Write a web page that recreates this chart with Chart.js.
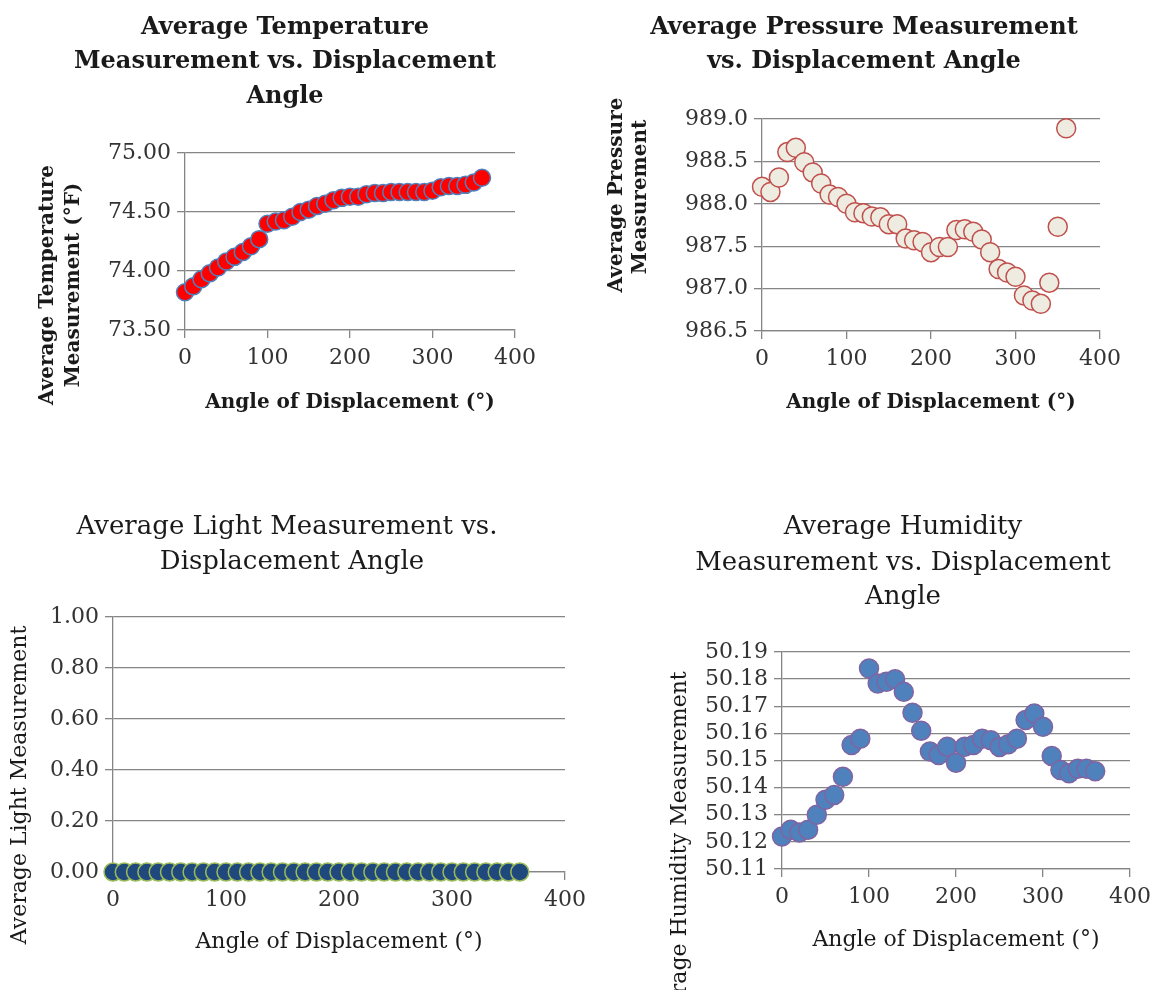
<!DOCTYPE html>
<html>
<head>
<meta charset="utf-8">
<script src="https://cdn.jsdelivr.net/npm/chart.js@4.4.1/dist/chart.umd.min.js"></script>
<style>
  html, body { margin: 0; padding: 0; background: #fff; }
  body { width: 1153px; height: 990px; position: relative; overflow: hidden; }
  .box { position: absolute; }
</style>
</head>
<body>
<div class="box" style="left:0;top:0;width:576px;height:495px"><canvas id="tempChart"></canvas></div>
<div class="box" style="left:576px;top:0;width:577px;height:495px"><canvas id="pressChart"></canvas></div>
<div class="box" style="left:0;top:495px;width:610px;height:495px"><canvas id="lightChart"></canvas></div>
<div class="box" style="left:576px;top:495px;width:610px;height:495px"><canvas id="humChart"></canvas></div>
<script>
// angle of displacement (deg)
const angles = [0, 10, 20, 30, 40, 50, 60, 70, 80, 90, 100, 110, 120, 130, 140, 150, 160, 170, 180,
                190, 200, 210, 220, 230, 240, 250, 260, 270, 280, 290, 300, 310, 320, 330, 340, 350, 360];

const temperature = [73.82, 73.87, 73.93, 73.98, 74.03, 74.08, 74.12, 74.16, 74.21, 74.27,
                     74.40, 74.42, 74.43, 74.46, 74.50, 74.52, 74.55, 74.57, 74.60, 74.62,
                     74.63, 74.63, 74.65, 74.66, 74.66, 74.67, 74.67, 74.67, 74.67, 74.67,
                     74.68, 74.71, 74.72, 74.72, 74.73, 74.75, 74.79];

const pressure = [988.20, 988.14, 988.31, 988.61, 988.66, 988.49, 988.37, 988.24, 988.11, 988.08,
                  988.00, 987.90, 987.89, 987.85, 987.84, 987.76, 987.76, 987.59, 987.57, 987.55,
                  987.43, 987.49, 987.49, 987.69, 987.70, 987.67, 987.58, 987.43, 987.23, 987.19,
                  987.14, 986.92, 986.86, 986.82, 987.07, 987.73, 988.89];

const light = [0, 0, 0, 0, 0, 0, 0, 0, 0, 0, 0, 0, 0, 0, 0, 0, 0, 0, 0,
               0, 0, 0, 0, 0, 0, 0, 0, 0, 0, 0, 0, 0, 0, 0, 0, 0, 0];

const humidity = [50.122, 50.1245, 50.1235, 50.1245, 50.130, 50.1355, 50.1373, 50.144, 50.1557, 50.158,
                  50.1839, 50.1784, 50.179, 50.180, 50.1753, 50.1676, 50.161, 50.1533, 50.152, 50.1551,
                  50.1492, 50.1551, 50.1557, 50.158, 50.1575, 50.155, 50.156, 50.158, 50.1649, 50.1673,
                  50.1624, 50.1517, 50.1465, 50.1453, 50.147, 50.147, 50.146];

const xTicks = [0, 100, 200, 300, 400];
const tempTicks = [73.5, 74.0, 74.5, 75.0];
const pressTicks = [986.5, 987.0, 987.5, 988.0, 988.5, 989.0];
const lightTicks = [0, 0.2, 0.4, 0.6, 0.8, 1.0];
const humTicks = [50.11, 50.12, 50.13, 50.14, 50.15, 50.16, 50.17, 50.18, 50.19];

const SERIF = '"DejaVu Serif", serif';
const GRID = '#858585';

// draws chart titles and the rotated y-axis titles at fixed spots
const textPlugin = {
    id: 'texts',
    afterDraw(chart, args, opts) {
        const ctx = chart.ctx;
        (opts.items || []).forEach(it => {
            ctx.save();
            ctx.font = it.font;
            ctx.fillStyle = '#1a1a1a';
            ctx.textAlign = 'center';
            ctx.textBaseline = 'middle';
            ctx.translate(it.x, it.y);
            if (it.rotate) ctx.rotate(-Math.PI / 2);
            ctx.fillText(it.text, 0, 0);
            ctx.restore();
        });
    }
};

function makeChart(id, cfg) {
    const W = cfg.w, H = 495;
    const xSize = cfg.bold ? 20 : 22;
    const pts = angles.map((a, i) => ({ x: a, y: cfg.values[i] }));
    new Chart(document.getElementById(id).getContext('2d'), {
        type: 'scatter',
        data: {
            datasets: [{
                data: pts,
                backgroundColor: cfg.fill,
                borderColor: cfg.stroke,
                borderWidth: 1.5,
                pointRadius: cfg.radius,
                pointHoverRadius: cfg.radius,
                clip: false
            }]
        },
        options: {
            responsive: true,
            maintainAspectRatio: false,
            animation: false,
            layout: {
                padding: { left: 0, top: cfg.area.t, right: W - cfg.area.r, bottom: 0 }
            },
            plugins: {
                legend: { display: false },
                tooltip: { enabled: false },
                texts: { items: cfg.texts }
            },
            scales: {
                x: {
                    type: 'linear',
                    min: 0,
                    max: 400,
                    afterFit: s => { s.height = H - cfg.area.b; },
                    afterBuildTicks: s => { s.ticks = xTicks.map(v => ({ value: v })); },
                    grid: { drawOnChartArea: false, drawTicks: true, tickLength: 8, color: GRID, lineWidth: 1.3 },
                    border: { display: true, color: GRID, width: 1.3 },
                    ticks: { color: '#333', font: { family: SERIF, size: 22 }, padding: 7, maxRotation: 0, autoSkip: false },
                    title: {
                        display: true,
                        text: 'Angle of Displacement (°)',
                        color: '#1a1a1a',
                        font: { family: SERIF, size: xSize, weight: cfg.bold ? 'bold' : 'normal' },
                        padding: { top: 0, bottom: H - xSize * 0.6 - cfg.xTitleY }
                    }
                },
                y: {
                    type: 'linear',
                    min: cfg.ticks[0],
                    max: cfg.ticks[cfg.ticks.length - 1],
                    afterFit: s => { s.width = cfg.area.l; },
                    afterBuildTicks: s => { s.ticks = cfg.ticks.map(v => ({ value: v })); },
                    grid: { drawOnChartArea: true, drawTicks: true, tickLength: 8, color: GRID, lineWidth: 1.3 },
                    border: { display: true, color: GRID, width: 1.3 },
                    ticks: {
                        color: '#333',
                        font: { family: SERIF, size: 22 },
                        padding: 6,
                        autoSkip: false,
                        callback: v => v.toFixed(cfg.digits)
                    }
                }
            }
        },
        plugins: [textPlugin]
    });
}

const B = s => 'bold ' + s + 'px ' + SERIF;
const N = s => s + 'px ' + SERIF;

makeChart('tempChart', {
    w: 576, values: temperature, ticks: tempTicks, digits: 2,
    fill: '#ff0000', stroke: '#4f81bd', radius: 8.5, bold: true,
    area: { l: 185, t: 153, r: 515, b: 330 }, xTitleY: 403,
    texts: [
        { text: 'Average Temperature', x: 285, y: 28, font: B(24) },
        { text: 'Measurement vs. Displacement', x: 285, y: 62, font: B(24) },
        { text: 'Angle', x: 285, y: 97, font: B(24) },
        { text: 'Average Temperature', x: 48, y: 285, font: B(20), rotate: true },
        { text: 'Measurement (°F)', x: 74, y: 285, font: B(20), rotate: true }
    ]
});

makeChart('pressChart', {
    w: 577, values: pressure, ticks: pressTicks, digits: 1,
    fill: '#eeece1', stroke: '#c0504d', radius: 9.5, bold: true,
    area: { l: 186, t: 119, r: 524, b: 331 }, xTitleY: 403,
    texts: [
        { text: 'Average Pressure Measurement', x: 288, y: 28, font: B(24) },
        { text: 'vs. Displacement Angle', x: 288, y: 62, font: B(24) },
        { text: 'Average Pressure', x: 41, y: 195, font: B(20), rotate: true },
        { text: 'Measurement', x: 65, y: 197, font: B(20), rotate: true }
    ]
});

makeChart('lightChart', {
    w: 610, values: light, ticks: lightTicks, digits: 2,
    fill: '#1f497d', stroke: '#9bbb59', radius: 9, bold: false,
    area: { l: 113, t: 122, r: 565, b: 377 }, xTitleY: 447,
    texts: [
        { text: 'Average Light Measurement vs.', x: 287, y: 32, font: N(26) },
        { text: 'Displacement Angle', x: 292, y: 67, font: N(26) },
        { text: 'Average Light Measurement', x: 20, y: 290, font: N(22), rotate: true }
    ]
});

makeChart('humChart', {
    w: 610, values: humidity, ticks: humTicks, digits: 2,
    fill: '#4f81bd', stroke: '#8064a2', radius: 9.5, bold: false,
    area: { l: 206, t: 157, r: 554, b: 374 }, xTitleY: 445,
    texts: [
        { text: 'Average Humidity', x: 327, y: 32, font: N(26) },
        { text: 'Measurement vs. Displacement', x: 327, y: 68, font: N(26) },
        { text: 'Angle', x: 327, y: 102, font: N(26) },
        { text: 'Average Humidity Measurement', x: 104, y: 358, font: N(22), rotate: true }
    ]
});
</script>
</body>
</html>
